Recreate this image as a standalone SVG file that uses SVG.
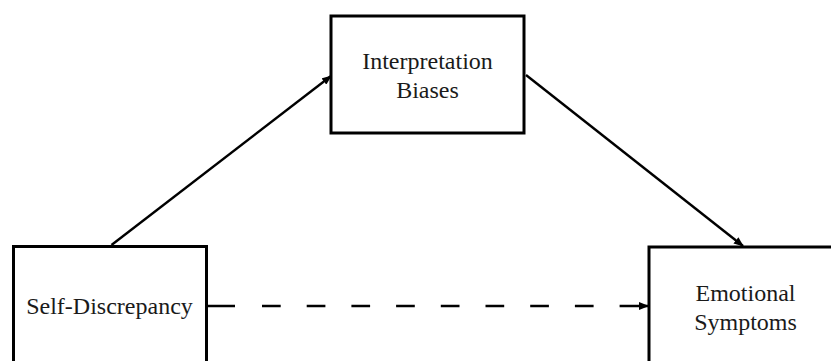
<svg xmlns="http://www.w3.org/2000/svg" width="831" height="361" viewBox="0 0 831 361">
  <style>
    .box { fill: #ffffff; stroke: #000000; stroke-width: 3; }
    .label { font-family: "Liberation Serif", "Times New Roman", serif; font-size: 24px; fill: #1a1a1a; text-anchor: middle; }
    .conn { stroke: #000000; stroke-width: 2.4; fill: none; }
  </style>
  <defs>
    <marker id="arrow" markerWidth="10" markerHeight="8" refX="9" refY="4" orient="auto" markerUnits="userSpaceOnUse">
      <path d="M0,0 L10,4 L0,8 Z" fill="#000000"/>
    </marker>
  </defs>
  <rect width="831" height="361" fill="#ffffff"/>

  <g id="connectors">
    <line class="conn" x1="111.5" y1="245" x2="331" y2="76" marker-end="url(#arrow)"/>
    <line class="conn" x1="526" y1="75" x2="743" y2="246" marker-end="url(#arrow)"/>
    <line class="conn" x1="207" y1="306" x2="648" y2="306" stroke-dasharray="28 27 18.7 26 18.7 26 18.7 26 18.7 26 18.7 26 18.7 26 18.7 26 18.7 26 40" marker-end="url(#arrow)"/>
  </g>

  <g id="node-interpretation">
    <rect class="box" x="331" y="16" width="193" height="117"/>
    <text class="label" x="427.5" y="69">Interpretation</text>
    <text class="label" x="427.5" y="98">Biases</text>
  </g>

  <g id="node-self-discrepancy">
    <rect class="box" x="13.5" y="246.5" width="193" height="130"/>
    <text class="label" x="109.5" y="314">Self-Discrepancy</text>
  </g>

  <g id="node-emotional">
    <rect class="box" x="649" y="247" width="196" height="130"/>
    <text class="label" x="745.5" y="301">Emotional</text>
    <text class="label" x="745.5" y="330">Symptoms</text>
  </g>
</svg>
